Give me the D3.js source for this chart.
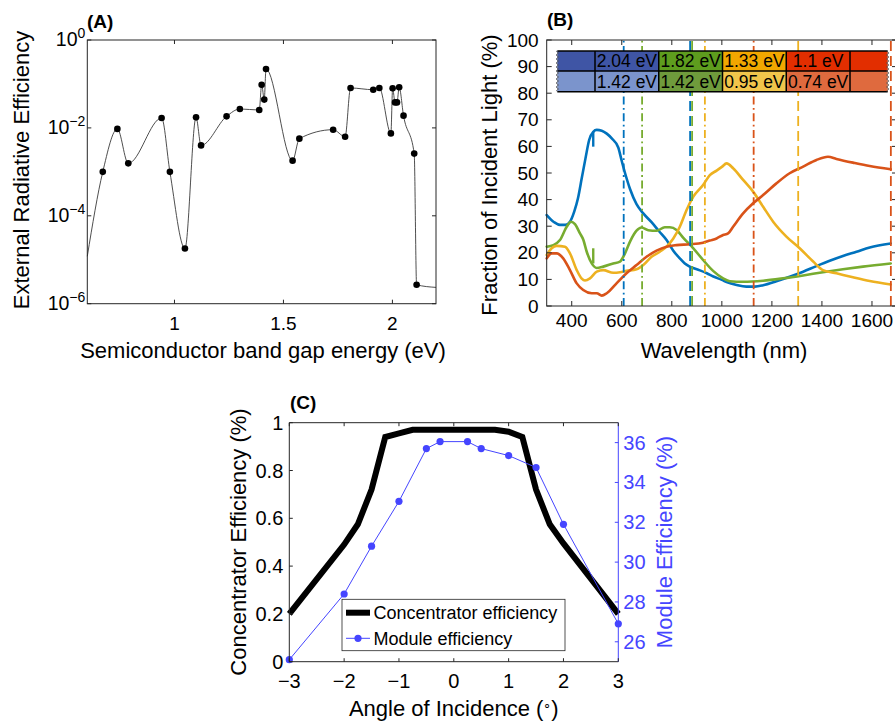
<!DOCTYPE html>
<html>
<head>
<meta charset="utf-8">
<script src="https://cdn.jsdelivr.net/npm/d3@7"></script>
<style>
  html, body { margin: 0; padding: 0; background: #fff; }
  svg { display: block; font-family: "Liberation Sans", Arial, Helvetica, sans-serif; }
</style>
</head>
<body>
<svg id="fig" width="895" height="721"></svg>
<script>
// ---------------- (A) external radiative efficiency vs band gap ----------------
const gapEnergy = [0.671, 0.738, 0.788, 0.941, 0.979, 1.048, 1.099, 1.122, 1.239, 1.300,
                   1.389, 1.400, 1.412, 1.420, 1.542, 1.573, 1.728, 1.783, 1.808, 1.912,
                   1.940, 1.993, 2.001, 2.012, 2.021, 2.031, 2.051, 2.100, 2.111];
const radEfficiency = [1.0e-3, 9.5e-3, 1.56e-3, 1.68e-2, 1.0e-3, 1.8e-5, 1.74e-2, 4.0e-3, 1.83e-2, 2.7e-2,
                       2.55e-2, 9.6e-2, 4.4e-2, 0.219, 1.8e-3, 5.7e-3, 9.1e-3, 6.3e-3, 8.1e-2, 7.4e-2,
                       8.1e-2, 7.5e-3, 8.0e-2, 3.8e-2, 3.8e-2, 8.4e-2, 1.9e-2, 2.6e-3, 2.7e-6];
// the fitted curve runs on to both ends of the axis
const curveEndEnergy = [0.6, 2.2];
const curveEndEfficiency = [1.2e-5, 2.35e-6];
const gapTicks = [1, 1.5, 2];
const effTickExp = [-6, -4, -2, 0];

// ---------------- (B) fraction of incident light per junction ----------------
const wlBlue = [300, 330, 353, 375, 393, 410, 425, 440, 455, 470, 486, 500, 520, 540, 560, 586, 600, 613, 633, 659,
                686, 719, 750, 779, 806, 832, 852, 872, 912, 940, 966, 1000, 1019, 1059, 1098, 1132, 1165, 1218,
                1271, 1325, 1378, 1431, 1484, 1538, 1591, 1675];
const pctBlue = [34.2, 31.5, 30.5, 30.5, 31.7, 35.5, 40.5, 48, 55.5, 62.5, 65.5, 66.2, 65.9, 64.8, 63, 59.6, 54.5, 50, 44, 38.3,
                 34.8, 31.5, 28, 24.8, 20.8, 17.9, 16.0, 14.8, 13.4, 12.3, 11.1, 9.8, 9.0, 7.9, 7.3, 7.3, 7.8, 9.3,
                 11.0, 12.9, 15.0, 17.0, 18.8, 20.4, 22.0, 23.5];
const wlGreen = [300, 327, 353, 380, 397, 413, 433, 446, 460, 480, 500, 526, 566, 593, 613, 633, 659, 679, 706, 739,
                 772, 792, 819, 846, 886, 925, 965, 1005, 1032, 1085, 1165, 1245, 1325, 1404, 1484, 1564, 1675];
const pctGreen = [22.3, 22.9, 24.8, 29.8, 31.7, 30.8, 27.3, 25.0, 20.4, 16.0, 14.3, 14.8, 16.0, 16.7, 19.8, 24.2, 28.3, 29.5, 28.5, 28.3,
                  29.6, 29.6, 28.6, 25.6, 21.7, 17.3, 13.2, 10.4, 9.3, 9.1, 9.5, 10.4, 11.5, 12.7, 13.8, 14.8, 16.0];
const wlYellow = [300, 320, 340, 373, 393, 420, 440, 453, 473, 500, 526, 566, 593, 619, 659, 686, 719, 752, 779, 806,
                  832, 859, 886, 925, 952, 979, 1000, 1019, 1045, 1085, 1125, 1165, 1205, 1258, 1311, 1365, 1404, 1458,
                  1524, 1591, 1675];
const pctYellow = [19.2, 21.7, 22.6, 22.3, 19.8, 13.5, 10.3, 9.6, 10.4, 12.9, 13.5, 12.5, 12.7, 13.2, 13.8, 15.4, 18.5, 20.4, 22.3, 25.4,
                   29.8, 36.1, 41.1, 45.5, 49.2, 50.9, 52.3, 53.6, 51.8, 47.4, 43.0, 37.3, 31.7, 26.1, 21.7, 16.7, 13.5, 12.3,
                   10.8, 9.4, 8.1];
const wlRed = [300, 320, 340, 366, 393, 420, 446, 480, 500, 520, 540, 579, 619, 659, 699, 739, 779, 819, 872, 925,
               952, 979, 1005, 1025, 1045, 1085, 1125, 1165, 1218, 1271, 1325, 1378, 1424, 1458, 1524, 1591, 1675];
const pctRed = [17.9, 19.8, 19.8, 17.9, 13.5, 8.5, 6.0, 4.8, 4.8, 3.9, 4.8, 8.5, 12.3, 15.4, 18.5, 20.8, 22.3, 22.9, 23.2, 23.8,
                24.6, 25.4, 26.7, 27.3, 29.8, 34.8, 38.6, 41.7, 46.1, 49.9, 52.4, 54.9, 56.1, 55.3, 53.9, 52.6, 51.4];
// detector changeover steps near 486 nm
const stepWl = 486;
const blueStep = [65.5, 59.9];
const greenStep = [16.0, 21.7];

// junction band gaps (top / bottom cell of each stack)
const topGap = [2.04, 1.82, 1.33, 1.1];
const bottomGap = [1.42, 1.42, 0.95, 0.74];
const wlTicks = [400, 600, 800, 1000, 1200, 1400, 1600];
const pctTicks = d3.range(0, 101, 10);

// ---------------- (C) angular response ----------------
const angle = [-3, -2, -1.75, -1.5, -1.25, -1, -0.75, -0.5, -0.25, 0, 0.25, 0.5, 0.75, 1, 1.25, 1.5, 1.75, 2, 3];
const concEff = [0.2, 0.49, 0.575, 0.72, 0.94, 0.955, 0.97, 0.97, 0.97, 0.97, 0.97, 0.97, 0.97, 0.962, 0.94, 0.72, 0.575, 0.495, 0.2];
const moduleAngle = [-3, -2, -1.5, -1, -0.5, -0.25, 0.25, 0.5, 1, 1.5, 2, 3];
const moduleEff = [25.1, 28.4, 30.8, 33.05, 35.7, 36.05, 36.05, 35.7, 35.35, 34.75, 31.9, 26.9];
const angleTicks = [-3, -2, -1, 0, 1, 2, 3];
const concTicks = [0, 0.2, 0.4, 0.6, 0.8, 1];
const moduleTicks = [26, 28, 30, 32, 34, 36];

// ---------------- styling ----------------
const AX = "#262626";
const lineColors = ["#0072BD", "#77AC30", "#EDB120", "#D95319"];
const topFill = ["#3F55A5", "#5E9D1E", "#F1A700", "#E22E00"];
const bottomFill = ["#7B94CC", "#6F9B3C", "#F1C54B", "#DF6A3E"];
const moduleColor = "#4545FF";
const minus = s => String(s).replace("-", "\u2212");

const svg = d3.select("#fig");

function frame(g, box, opts = {}) {
  const c = opts.color || AX;
  g.append("rect").attr("x", box.l).attr("y", box.t)
    .attr("width", box.r - box.l).attr("height", box.b - box.t)
    .attr("fill", "none").attr("stroke", c).attr("stroke-width", 1);
}
function xTicks(g, box, x, vals, len) {
  vals.forEach(v => {
    const px = x(v);
    g.append("line").attr("x1", px).attr("x2", px).attr("y1", box.b).attr("y2", box.b - len).attr("stroke", AX);
    g.append("line").attr("x1", px).attr("x2", px).attr("y1", box.t).attr("y2", box.t + len).attr("stroke", AX);
  });
}
function yTicks(g, box, y, vals, len, sides = ["l", "r"], color = AX) {
  vals.forEach(v => {
    const py = y(v);
    if (sides.includes("l")) g.append("line").attr("x1", box.l).attr("x2", box.l + len).attr("y1", py).attr("y2", py).attr("stroke", color);
    if (sides.includes("r")) g.append("line").attr("x1", box.r).attr("x2", box.r - len).attr("y1", py).attr("y2", py).attr("stroke", color);
  });
}
function label(g, txt, x, y, size, opts = {}) {
  const t = g.append("text").attr("x", x).attr("y", y).attr("font-size", size)
    .attr("text-anchor", opts.anchor || "middle").attr("fill", opts.color || "#000").text(txt);
  if (opts.bold) t.attr("font-weight", "bold");
  if (opts.rotate) t.attr("transform", `rotate(-90,${x},${y})`);
  return t;
}

// ================= (A) =================
{
  const box = { l: 87.3, r: 436, t: 40, b: 303.7 };
  const x = d3.scaleLinear().domain([0.6, 2.2]).range([box.l, box.r]);
  const y = d3.scaleLog().domain([1e-6, 1]).range([box.b, box.t]);
  const g = svg.append("g");

  const pts = gapEnergy.map((e, i) => [e, radEfficiency[i]]);
  const curvePts = [[curveEndEnergy[0], curveEndEfficiency[0]], ...pts, [curveEndEnergy[1], curveEndEfficiency[1]]];
  const line = d3.line().x(d => x(d[0])).y(d => y(d[1])).curve(d3.curveMonotoneX);
  g.append("path").attr("d", line(curvePts)).attr("fill", "none").attr("stroke", "#3a3a3a").attr("stroke-width", 0.9);
  g.selectAll("circle.pt").data(pts).join("circle").attr("class", "pt")
    .attr("cx", d => x(d[0])).attr("cy", d => y(d[1])).attr("r", 3.3).attr("fill", "#000");

  frame(g, box);
  xTicks(g, box, x, gapTicks, 4);
  yTicks(g, box, y, effTickExp.map(k => Math.pow(10, k)), 4);

  gapTicks.forEach(v => label(g, String(v), x(v), 330, 19));
  effTickExp.forEach(k => {
    const t = g.append("text").attr("x", box.l - 2).attr("y", y(Math.pow(10, k)) + 6)
      .attr("text-anchor", "end").attr("font-size", 19.5);
    t.append("tspan").text("10");
    t.append("tspan").attr("dy", -8).attr("font-size", 14).text(minus(k));
  });
  label(g, "External Radiative Efficiency", 29, 170, 22, { rotate: true });
  label(g, "Semiconductor band gap energy (eV)", 263, 358, 22);
  label(g, "(A)", 87, 28, 19, { anchor: "start", bold: true });
}

// ================= (B) =================
{
  const box = { l: 546.7, r: 897, t: 40, b: 306 };
  const x = d3.scaleLinear().domain([300, 1700]).range([box.l, box.r]);
  const y = d3.scaleLinear().domain([0, 100]).range([box.b, box.t]);
  const g = svg.append("g");
  const toWl = ev => 1239.84 / ev;

  const series = [
    [wlBlue, pctBlue, lineColors[0]],
    [wlGreen, pctGreen, lineColors[1]],
    [wlYellow, pctYellow, lineColors[2]],
    [wlRed, pctRed, lineColors[3]]
  ];
  const line = d3.line().x(d => x(d[0])).y(d => y(d[1])).curve(d3.curveMonotoneX);
  series.forEach(([wl, pct, col]) => {
    g.append("path").attr("d", line(wl.map((w, i) => [w, pct[i]])))
      .attr("fill", "none").attr("stroke", col).attr("stroke-width", 2.6)
      .attr("stroke-linejoin", "round").attr("stroke-linecap", "round");
  });
  [[blueStep, lineColors[0]], [greenStep, lineColors[1]]].forEach(([s, col]) => {
    g.append("line").attr("x1", x(stepWl)).attr("x2", x(stepWl)).attr("y1", y(s[0])).attr("y2", y(s[1]))
      .attr("stroke", col).attr("stroke-width", 2.4);
  });

  // band-edge wavelength of every junction: dash-dot for the top cell, dashed for the bottom cell
  const used = [];
  topGap.forEach((ev, i) => {
    g.append("line").attr("x1", x(toWl(ev))).attr("x2", x(toWl(ev))).attr("y1", box.b).attr("y2", box.t)
      .attr("stroke", lineColors[i]).attr("stroke-width", 1.8).attr("stroke-dasharray", "8,3.5,1.8,3.5");
  });
  bottomGap.forEach((ev, i) => {
    const n = used.filter(v => v === ev).length;
    used.push(ev);
    const px = x(toWl(ev)) + n * 2;   // coincident cut-offs are set side by side
    g.append("line").attr("x1", px).attr("x2", px).attr("y1", box.b).attr("y2", box.t)
      .attr("stroke", lineColors[i]).attr("stroke-width", 1.8).attr("stroke-dasharray", "10,5");
  });

  frame(g, box);
  xTicks(g, box, x, wlTicks, 5);
  yTicks(g, box, y, pctTicks, 5);
  wlTicks.forEach(v => label(g, String(v), x(v), 327, 19));
  pctTicks.forEach(v => label(g, String(v), box.l - 8, y(v) + 6.5, 19, { anchor: "end" }));

  // stacked-junction key
  const tl = 557.3, tr = 887.7, ty = [51, 71, 91.7];
  const edgeW = 37.7;
  const cellW = (tr - tl - 2 * edgeW) / topGap.length;
  const cols = [tl, ...topGap.map((_, i) => tl + edgeW + i * cellW), tr - edgeW, tr];
  const key = g.append("g");
  for (let c = 0; c < 6; c++) {
    const gi = c === 0 ? 0 : (c === 5 ? 3 : c - 1);
    key.append("rect").attr("x", cols[c]).attr("y", ty[0]).attr("width", cols[c + 1] - cols[c]).attr("height", ty[1] - ty[0]).attr("fill", topFill[gi]);
    key.append("rect").attr("x", cols[c]).attr("y", ty[1]).attr("width", cols[c + 1] - cols[c]).attr("height", ty[2] - ty[1]).attr("fill", bottomFill[gi]);
  }
  topGap.forEach((ev, i) => {
    const cx = (cols[i + 1] + cols[i + 2]) / 2;
    label(key, `${ev} eV`, cx, ty[0] + 16, 17.5);
    label(key, `${bottomGap[i]} eV`, cx, ty[1] + 16.5, 17.5);
  });
  key.append("line").attr("x1", tl).attr("x2", tr).attr("y1", ty[0]).attr("y2", ty[0]).attr("stroke", "#000").attr("stroke-width", 1.5);
  key.append("line").attr("x1", tl).attr("x2", tr).attr("y1", ty[1]).attr("y2", ty[1]).attr("stroke", "#000").attr("stroke-width", 1.5);
  key.append("line").attr("x1", tl).attr("x2", tr).attr("y1", ty[2]).attr("y2", ty[2]).attr("stroke", "#000").attr("stroke-width", 1.5);
  cols.slice(1, -1).forEach(cx => key.append("line").attr("x1", cx).attr("x2", cx).attr("y1", ty[0]).attr("y2", ty[2]).attr("stroke", "#000").attr("stroke-width", 1.5));
  // torn ends of the key
  [tl, tr].forEach(ex => {
    const wave = d3.range(ty[0], ty[2] + 0.01, 2).map((yy, k) => [ex + (k % 2 ? 1.2 : -1.2), yy]);
    key.append("path").attr("d", d3.line()(wave)).attr("fill", "none").attr("stroke", "#555").attr("stroke-width", 0.9);
  });

  label(g, "Fraction of Incident Light (%)", 497, 175, 22, { rotate: true });
  label(g, "Wavelength (nm)", 724, 358, 22);
  label(g, "(B)", 547, 26, 19, { anchor: "start", bold: true });
}

// ================= (C) =================
{
  const box = { l: 289.3, r: 618.3, t: 422.7, b: 661.7 };
  const x = d3.scaleLinear().domain([-3, 3]).range([box.l, box.r]);
  const yL = d3.scaleLinear().domain([0, 1]).range([box.b, box.t]);
  const yR = d3.scaleLinear().domain([25, 37]).range([box.b, box.t]);
  const g = svg.append("g");

  g.append("path").attr("d", d3.line().x((d, i) => x(angle[i])).y(d => yL(d))(concEff))
    .attr("fill", "none").attr("stroke", "#000").attr("stroke-width", 6).attr("stroke-linejoin", "miter");
  g.append("path").attr("d", d3.line().x((d, i) => x(moduleAngle[i])).y(d => yR(d))(moduleEff))
    .attr("fill", "none").attr("stroke", moduleColor).attr("stroke-width", 1);
  g.selectAll("circle.m").data(moduleEff).join("circle").attr("class", "m")
    .attr("cx", (d, i) => x(moduleAngle[i])).attr("cy", d => yR(d)).attr("r", 3.6).attr("fill", moduleColor);

  // axes: black on the left, blue on the right
  g.append("line").attr("x1", box.l).attr("x2", box.r).attr("y1", box.t).attr("y2", box.t).attr("stroke", AX);
  g.append("line").attr("x1", box.l).attr("x2", box.r).attr("y1", box.b).attr("y2", box.b).attr("stroke", AX);
  g.append("line").attr("x1", box.l).attr("x2", box.l).attr("y1", box.t).attr("y2", box.b).attr("stroke", AX);
  g.append("line").attr("x1", box.r).attr("x2", box.r).attr("y1", box.t).attr("y2", box.b).attr("stroke", moduleColor);
  xTicks(g, box, x, angleTicks, 3.5);
  yTicks(g, box, yL, concTicks, 3.5, ["l"]);
  yTicks(g, box, yR, moduleTicks, 3.5, ["r"], moduleColor);
  angleTicks.forEach(v => label(g, minus(v), x(v), 688, 20));
  concTicks.forEach(v => label(g, String(v), box.l - 6, yL(v) + 7, 20, { anchor: "end" }));
  moduleTicks.forEach(v => label(g, String(v), box.r + 5, yR(v) + 7, 20, { anchor: "start", color: moduleColor }));

  label(g, "Concentrator Efficiency (%)", 245.5, 542, 22, { rotate: true });
  label(g, "Module Efficiency (%)", 672, 542, 22, { rotate: true, color: moduleColor });
  const xl = label(g, "Angle of Incidence (", x(0), 716, 22);
  xl.append("tspan").attr("dy", -7).attr("font-size", 13).text("\u2218");
  xl.append("tspan").attr("dy", 7).text(")");
  label(g, "(C)", 290, 409, 19, { anchor: "start", bold: true });

  // legend
  const lg = g.append("g");
  lg.append("rect").attr("x", 342).attr("y", 599.3).attr("width", 223).attr("height", 51.4)
    .attr("fill", "#fff").attr("stroke", AX).attr("stroke-width", 0.8);
  lg.append("line").attr("x1", 346).attr("x2", 370).attr("y1", 612.7).attr("y2", 612.7).attr("stroke", "#000").attr("stroke-width", 6);
  lg.append("line").attr("x1", 346).attr("x2", 370).attr("y1", 638.3).attr("y2", 638.3).attr("stroke", moduleColor).attr("stroke-width", 1);
  lg.append("circle").attr("cx", 358).attr("cy", 638.3).attr("r", 3.6).attr("fill", moduleColor);
  label(lg, "Concentrator efficiency", 373.5, 619, 18, { anchor: "start" });
  label(lg, "Module efficiency", 373.5, 644.5, 18, { anchor: "start" });
}
</script>
</body>
</html>
